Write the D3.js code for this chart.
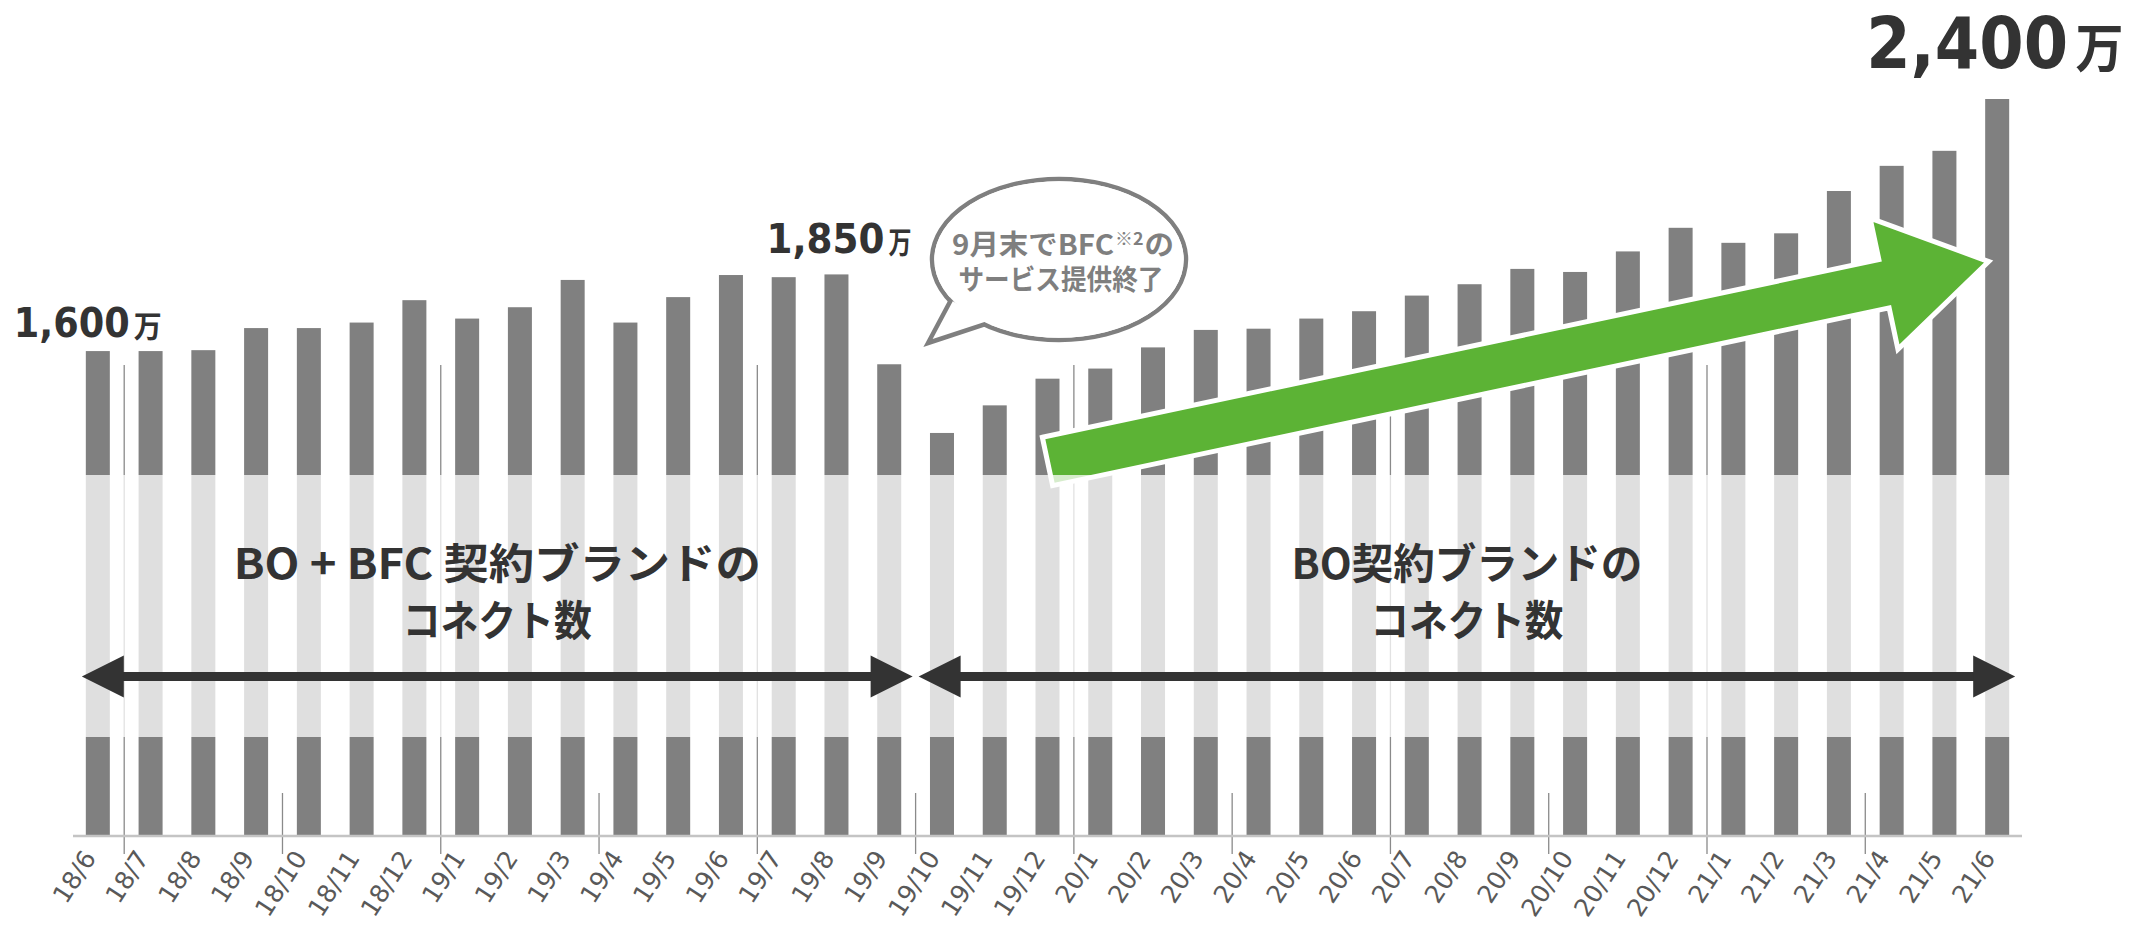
<!DOCTYPE html>
<html>
<head>
<meta charset="utf-8">
<script src="https://cdn.jsdelivr.net/npm/d3@7"></script>
<style>
  html, body { margin: 0; padding: 0; background: #fff; }
  svg { display: block; }
</style>
</head>
<body>
<div id="chart"></div>
<script>
// monthly connect counts (万)
const months = [
  "18/6", "18/7", "18/8", "18/9", "18/10", "18/11", "18/12",
  "19/1", "19/2", "19/3", "19/4", "19/5", "19/6", "19/7", "19/8", "19/9", "19/10", "19/11", "19/12",
  "20/1", "20/2", "20/3", "20/4", "20/5", "20/6", "20/7", "20/8", "20/9", "20/10", "20/11", "20/12",
  "21/1", "21/2", "21/3", "21/4", "21/5", "21/6"
];
const connects = [
  1578, 1578, 1581, 1653, 1653, 1671, 1744,
  1684, 1721, 1810, 1671, 1754, 1826, 1819, 1828, 1535, 1311, 1401, 1488,
  1521, 1590, 1647, 1651, 1684, 1708, 1759, 1796, 1846, 1836, 1903, 1980,
  1931, 1962, 2100, 2182, 2231, 2400
];

// highlighted values
const labelMonths = ["18/6", "19/8", "21/6"];
const labelNums = ["1,600", "1,850", "2,400"];
const labelUnit = "万";

// callout
const calloutLines = [["9月末でBFC", "※2", "の"], ["サービス提供終了"]];

// period annotations
const periodStart = ["18/6", "19/10"];
const periodEnd = ["19/9", "21/6"];
const periodText = [["BO + BFC 契約ブランドの", "コネクト数"], ["BO契約ブランドの", "コネクト数"]];

// trend arrow (month, value)
const trendFrom = ["19/12", 1218];
const trendTo = ["21/6", 1870];

const W = 2131, H = 927;
const baseY = 835;

const svg = d3.select("#chart").append("svg")
  .attr("width", W)
  .attr("height", H);

const x = d3.scaleBand()
  .domain(months)
  .range([73, 2022])
  .paddingInner(0.545)
  .paddingOuter(0.243);
const bw = x.bandwidth();
const step = x.step();

const y = d3.scaleLinear()
  .domain([0, 2400])
  .range([baseY, 99]);

// squeeze a text horizontally to a given width (left aligned at x0)
function fitText(sel, x0, yb, width) {
  const natural = sel.node().getComputedTextLength();
  sel.attr("x", 0).attr("y", 0)
    .attr("transform", `translate(${x0},${yb}) scale(${width / natural},1)`);
}

// bars
svg.append("g")
  .selectAll("rect")
  .data(connects)
  .join("rect")
  .attr("x", (d, i) => x(months[i]))
  .attr("y", d => y(d))
  .attr("width", bw)
  .attr("height", d => baseY - y(d))
  .attr("fill", "#808080");

// category boundary marks (half-year tall, quarter short)
const bounds = months.slice(1).map(m => ({ m: +m.split("/")[1], xpos: x(m) - (step - bw) / 2 }))
  .filter(d => d.m % 3 === 1);
svg.append("g")
  .selectAll("line")
  .data(bounds)
  .join("line")
  .attr("x1", d => d.xpos)
  .attr("x2", d => d.xpos)
  .attr("y1", d => (d.m === 1 || d.m === 7) ? 365 : 793)
  .attr("y2", 854)
  .attr("stroke", "#8a8a8a")
  .attr("stroke-width", 1.3);

// axis line
svg.append("line")
  .attr("x1", x.range()[0]).attr("x2", x.range()[1])
  .attr("y1", baseY + 1).attr("y2", baseY + 1)
  .attr("stroke", "#c4c4c4")
  .attr("stroke-width", 2.5);

// green trend arrow
const ax0 = x(trendFrom[0]) + bw / 2, ay0 = y(trendFrom[1]);
const ax1 = x(trendTo[0]) + bw / 2 - 8.5, ay1 = y(trendTo[1]);
const alen = Math.hypot(ax1 - ax0, ay1 - ay0);
const aang = Math.atan2(ay1 - ay0, ax1 - ax0) * 180 / Math.PI;
const sh = 24.7, hh = 67, hl = 107;
const arrowPts = [[0, -sh], [alen - hl, -sh], [alen - hl, -hh], [alen, 0], [alen - hl, hh], [alen - hl, sh], [0, sh]];
svg.append("polygon")
  .attr("points", arrowPts.map(p => p.join(",")).join(" "))
  .attr("transform", `translate(${ax0},${ay0}) rotate(${aang})`)
  .attr("fill", "#5cb335")
  .attr("stroke", "#fff")
  .attr("stroke-width", 5)
  .attr("stroke-linejoin", "miter");

// pale band behind the period text
svg.append("rect")
  .attr("x", 0).attr("y", 475)
  .attr("width", W).attr("height", 262)
  .attr("fill", "#fff")
  .attr("opacity", 0.75);

// x tick labels
svg.append("g")
  .selectAll("text")
  .data(months)
  .join("text")
  .attr("transform", d => `translate(${x(d) + bw / 2 - 1},${858}) rotate(-57)`)
  .attr("text-anchor", "end")
  .attr("font-family", "'DejaVu Sans', sans-serif")
  .attr("font-size", 25)
  .attr("fill", "#595959")
  .text(d => d);

// value labels: number + unit as separate texts
const labelSize = [40, 40, 72];
const labelGap = [14, 21, 31];
const labelLeft = [-84, -70, -131];
const numW = [116, 118, 202];
const unitW = [28, 23, 48];
labelMonths.forEach((m, i) => {
  const v = connects[months.indexOf(m)];
  const x0 = x(m) + bw / 2 + labelLeft[i];
  const yb = y(v) - labelGap[i];
  const num = svg.append("text")
    .attr("font-family", "'DejaVu Sans', sans-serif")
    .attr("font-weight", "bold")
    .attr("font-size", labelSize[i])
    .attr("fill", "#333")
    .text(labelNums[i]);
  fitText(num, x0, yb, numW[i]);
  const unit = svg.append("text")
    .attr("font-family", "'Noto Sans CJK JP', sans-serif")
    .attr("font-weight", "bold")
    .attr("font-size", labelSize[i] * 0.74)
    .attr("fill", "#333")
    .text(labelUnit);
  fitText(unit, x0 + numW[i] + labelSize[i] * 0.1, yb, unitW[i]);
});

// callout bubble
const cb = { cx: 1059, cy: 259.5, rx: 127, ry: 80.5 };
const tail = [[952, 298], [928, 343], [992, 322]];
svg.append("ellipse")
  .attr("cx", cb.cx).attr("cy", cb.cy).attr("rx", cb.rx).attr("ry", cb.ry)
  .attr("fill", "#fff").attr("stroke", "#7f7f7f").attr("stroke-width", 4.5);
svg.append("polygon")
  .attr("points", tail.map(p => p.join(",")).join(" "))
  .attr("fill", "#fff").attr("stroke", "#7f7f7f").attr("stroke-width", 4.5)
  .attr("stroke-linejoin", "miter");
svg.append("ellipse")
  .attr("cx", cb.cx).attr("cy", cb.cy).attr("rx", cb.rx - 2.3).attr("ry", cb.ry - 2.3)
  .attr("fill", "#fff");

// callout first line: pieces laid out one after another, superscript raised
const partSize = [28, 17, 28];
const partRaise = [0, -10, 0];
const partGap = [1, 1, 0];
const line1W = 222;
const parts = calloutLines[0].map((s, i) => svg.append("text")
  .attr("font-family", "'Noto Sans CJK JP', sans-serif")
  .attr("font-weight", "bold")
  .attr("font-size", partSize[i])
  .attr("fill", "#7f7f7f")
  .text(s));
const lens = parts.map(p => p.node().getComputedTextLength());
const k1 = (line1W - d3.sum(partGap)) / d3.sum(lens);
let cursor = 1063 - line1W / 2;
parts.forEach((p, i) => {
  p.attr("transform", `translate(${cursor},${255 + partRaise[i]}) scale(${k1},1)`);
  cursor += lens[i] * k1 + partGap[i];
});
svg.append("text")
  .attr("x", 1061).attr("y", 290)
  .attr("text-anchor", "middle")
  .attr("font-family", "'Noto Sans CJK JP', sans-serif")
  .attr("font-weight", "bold")
  .attr("font-size", 28)
  .attr("fill", "#7f7f7f")
  .attr("textLength", 205)
  .attr("lengthAdjust", "spacingAndGlyphs")
  .text(calloutLines[1][0]);

// period double arrows + text
const arrowY = 676.5;
const headL = 42, headH = 21;
const pLeft = [x(periodStart[0]) - 4, x(periodStart[1]) - (step - bw) / 2 + 3];
const pRight = [x(periodEnd[0]) + bw + (step - bw) / 2 - 3, x(periodEnd[1]) + bw + 6];
const textW = [[527, 189], [351, 193]];
periodText.forEach((lines, i) => {
  const l = pLeft[i], r = pRight[i];
  const g = svg.append("g").attr("fill", "#333");
  g.append("rect")
    .attr("x", l + headL - 2).attr("y", arrowY - 4.5)
    .attr("width", r - l - 2 * headL + 4).attr("height", 9);
  g.append("polygon")
    .attr("points", `${l},${arrowY} ${l + headL},${arrowY - headH} ${l + headL},${arrowY + headH}`);
  g.append("polygon")
    .attr("points", `${r},${arrowY} ${r - headL},${arrowY - headH} ${r - headL},${arrowY + headH}`);
  const cx = (l + r) / 2;
  lines.forEach((s, j) => {
    svg.append("text")
      .attr("x", cx).attr("y", 579 + j * 57)
      .attr("text-anchor", "middle")
      .attr("font-family", "'Noto Sans CJK JP', sans-serif")
      .attr("font-weight", "bold")
      .attr("font-size", 42)
      .attr("fill", "#333")
      .attr("textLength", textW[i][j])
      .attr("lengthAdjust", "spacingAndGlyphs")
      .text(s);
  });
});
</script>
</body>
</html>
